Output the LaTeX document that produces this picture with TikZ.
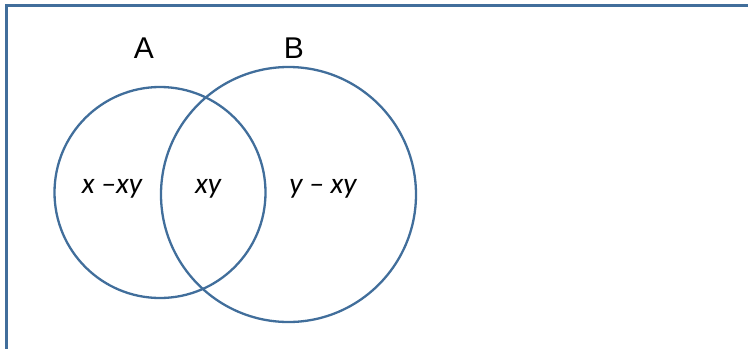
\documentclass[tikz,border=0pt]{standalone}
\usepackage{fontspec}
\setmainfont{Liberation Sans}
\newfontfamily\carl{Carlito}
\definecolor{vblue}{RGB}{65,110,155}
\begin{document}
\begin{tikzpicture}[x=1pt,y=-1pt,
  setc/.style={circle, draw=vblue, line width=2.3pt, inner sep=0pt, minimum size=#1},
  setlbl/.style={font=\fontsize{30}{36}\selectfont},
  reg/.style={font=\carl\itshape\fontsize{29.5}{34}\selectfont},
  frame/.style={draw=vblue, line width=3pt}]
\useasboundingbox (0,0) rectangle (748,349);
\coordinate (tl) at (6.5,5);
\coordinate (tr) at (748,5);
\coordinate (bl) at (6.5,349);
\draw[frame] (tr) -- (tl) -- (bl);
\node[setc=211] (A) at (160,192.5) {};
\node[setc=255] (B) at (288.5,194.5) {};
\node[setlbl] (la) at (144,48) {A};
\node[setlbl] (lb) at (294,48) {B};
\node[reg] (r1) at (112,189) {x –xy};
\node[reg] (r2) at (208,189) {xy};
\node[reg] (r3) at (323,189) {y – xy};
\end{tikzpicture}
\end{document}
